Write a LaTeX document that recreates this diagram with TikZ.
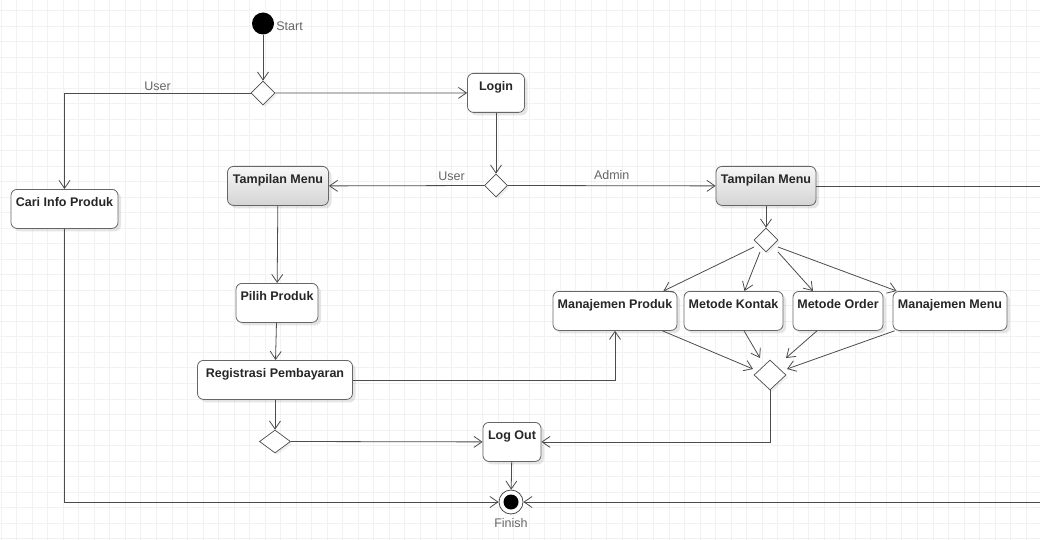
\documentclass[tikz,border=0pt]{standalone}
\usepackage{fontspec}
\setmainfont{Liberation Sans}
\usetikzlibrary{arrows.meta,positioning,shapes.geometric,shadows}

\begin{document}
\begin{tikzpicture}[x=1pt,y=-1pt,
            gridline/.style={draw=black!5,line width=.6pt},
            act/.style={draw=black!60,rounded corners=6pt,fill=white,anchor=north,inner sep=3pt,
              text height=14pt,text depth=19pt,font=\fontsize{12.5}{14}\selectfont\bfseries,text=black!85,
              line width=.8pt,drop shadow={shadow xshift=3pt,shadow yshift=-3pt,opacity=.2,fill=black!50}},
            menu/.style={act,top color=black!3,bottom color=black!17},
            dec/.style={diamond,draw=black!70,fill=white,inner sep=0pt,minimum width=24pt,minimum height=24pt,
              line width=.7pt,drop shadow={shadow xshift=2pt,shadow yshift=-2pt,opacity=.12,fill=black!50}},
            lbl/.style={font=\fontsize{12.5}{14}\selectfont,text=black!60,inner sep=1pt},
            flow/.style={draw=black!70,line width=.8pt,-{Straight Barb[length=8pt,width=11pt]}}
          ]
          \fill[white] (0,0) rectangle (1040,540);
          \useasboundingbox (0,0) rectangle (1040,540);
          %grid
          \foreach \i in {0,...,66} \draw[gridline] ({1+15.53*\i},0) -- ({1+15.53*\i},540);
          \foreach \i in {0,...,34} \draw[gridline] (0,{10.6+15.53*\i}) -- (1040,{10.6+15.53*\i});

          %start and finish
          \node[circle,fill=black,minimum size=22pt,inner sep=0pt] (start) at (263,23.5) {};
          \node[lbl,right=1pt of start,yshift=-3pt] (startlbl) {Start};
          \node[circle,draw=black!70,fill=white,minimum size=24pt,inner sep=0pt,line width=.8pt,
                path picture={\fill[black] (path picture bounding box.center) circle (7.5pt);}] (finish) at (511,502) {};
          \node[lbl,below=3pt of finish] (finishlbl) {Finish};
          \coordinate (rim) at (1050,0);

          %decisions
          \node[dec] (dec1) at (263,93) {};
          \node[dec,minimum width=23pt,minimum height=23pt] (dec2) at (496,185.5) {};
          \node[dec] (dec3) at (766,240) {};
          \node[dec,minimum width=32pt,minimum height=30pt] (dec4) at (770,375) {};
          \node[dec,minimum width=31pt,minimum height=23pt] (dec5) at (275,441.5) {};

          %activities
          \node[act,minimum width=57pt] (login) at (496,73) {Login};
          \node[act,minimum width=107pt] (cari) at (64.5,189) {Cari Info Produk};
          \node[menu,minimum width=101pt] (tmU) at (278,166) {Tampilan Menu};
          \node[menu,minimum width=100pt] (tmA) at (766,166) {Tampilan Menu};
          \node[act,minimum width=82pt] (pilih) at (277,283) {Pilih Produk};
          \node[act,minimum width=155pt] (reg) at (275,360) {Registrasi Pembayaran};
          \node[act,minimum width=124pt] (mp) at (615,291) {Manajemen Produk};
          \node[act,minimum width=99pt] (mk) at (733.5,291) {Metode Kontak};
          \node[act,minimum width=90pt] (mo) at (838,291) {Metode Order};
          \node[act,minimum width=114pt] (mm) at (950,291) {Manajemen Menu};
          \node[act,minimum width=58pt] (logout) at (512,422) {Log Out};

          %flows
          \draw[flow] (start) -- (dec1);
          \draw[flow] (dec1.west) -| node[lbl,pos=.25,above=1pt] {User} (cari.north);
          \draw[flow] (dec1.east) -- (login.west);
          \draw[flow] (login) -- (dec2);
          \draw[flow] (dec2.west) -- node[lbl,pos=.21,above=4pt] {User} (tmU.east);
          \draw[flow] (dec2.east) -- node[lbl,above=5pt] {Admin} (tmA.west);
          \draw[flow] (tmA) -- (dec3);
          \draw[flow] ([shift={(-12,7)}]dec3.center) -- ([xshift=-14pt]mp.north east);
          \draw[flow] ([shift={(-6,12)}]dec3.center) -- ([xshift=11pt]mk.north);
          \draw[flow] ([shift={(12,12)}]dec3.center) -- ([xshift=-25pt]mo.north);
          \draw[flow] ([shift={(12,7)}]dec3.center) -- ([xshift=4pt]mm.north west);
          \draw[flow] ([xshift=-15pt]mp.south east) -- ([shift={(-17,-6)}]dec4.center);
          \draw[flow] ([xshift=10.5pt]mk.south) -- ([shift={(-10,-17)}]dec4.center);
          \draw[flow] ([xshift=-21pt]mo.south) -- ([shift={(16,-17)}]dec4.center);
          \draw[flow] ([xshift=2pt]mm.south west) -- ([shift={(17,-6)}]dec4.center);
          \draw[flow] (dec4.south) |- (logout.east);
          \draw[flow] (tmU) -- (pilih);
          \draw[flow] (pilih) -- (reg);
          \draw[flow] (reg.east) -| (mp.south);
          \draw[flow] (reg) -- (dec5);
          \draw[flow] (dec5.east) -- (logout.west);
          \draw[flow] (logout) -- (finish);
          \draw[flow] (cari.south) |- (finish.west);
          \draw[flow] (tmA.east) -| (rim |- finish.east) -- (finish.east);

      \end{tikzpicture}
\end{document}
